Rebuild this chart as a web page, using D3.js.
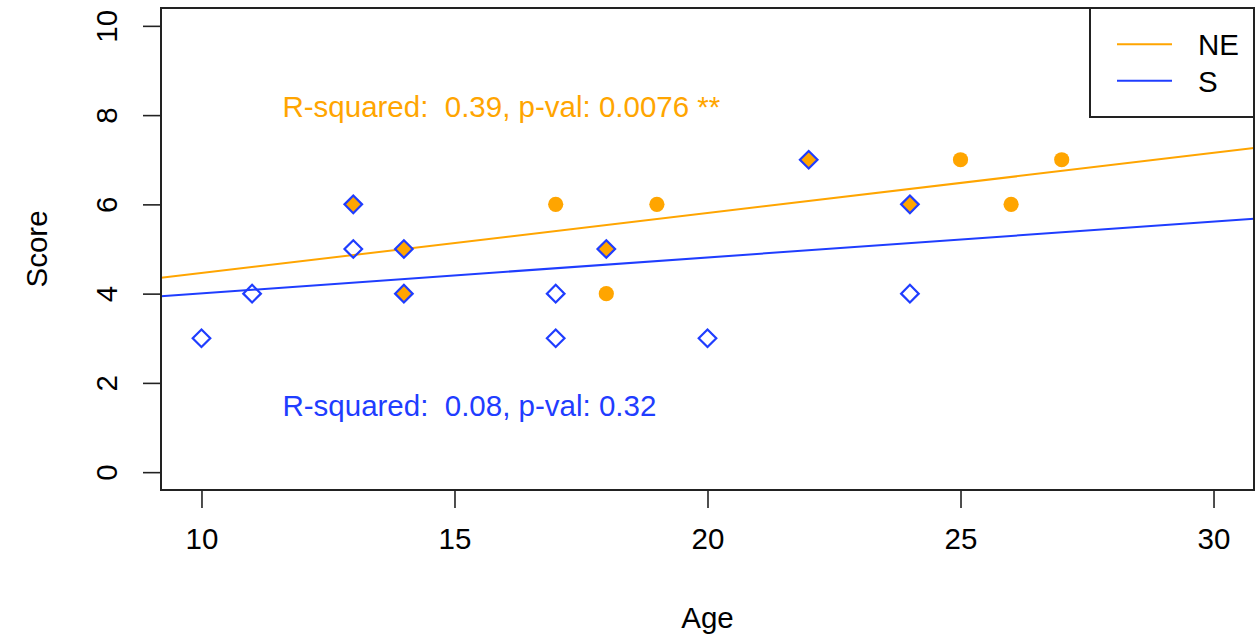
<!DOCTYPE html>
<html>
<head>
<meta charset="utf-8">
<script src="https://cdn.jsdelivr.net/npm/d3@7"></script>
<style>
  html, body { margin: 0; padding: 0; background: #fff; }
  svg { display: block; font-family: "Liberation Sans", Arial, Helvetica, sans-serif; }
  text.ann { white-space: pre; }
</style>
</head>
<body>
<svg id="chart" width="1258" height="635"></svg>
<script>
// ---- data ----
const neAge   = [17, 19, 18, 25, 26, 27, 13, 14, 14, 18, 22, 24];
const neScore = [ 6,  6,  4,  7,  6,  7,  6,  5,  4,  5,  7,  6];
const sAge    = [10, 11, 13, 17, 17, 20, 24, 13, 14, 14, 18, 22, 24];
const sScore  = [ 3,  4,  5,  4,  3,  3,  4,  6,  5,  4,  5,  7,  6];
// fitted lines (intercept, slope)
const neFit = [3.115, 0.1346];
const sFit  = [3.202, 0.0804];
const xTicks = [10, 15, 20, 25, 30];
const yTicks = [0, 2, 4, 6, 8, 10];
const xLim = [10, 30];
const yLim = [0, 10];
const seriesNames = ["NE", "S"];
const annotations = [
  { text: "R-squared:  0.39, p-val: 0.0076 **", x: 11.6, y: 8.2, series: "NE" },
  { text: "R-squared:  0.08, p-val: 0.32", x: 11.6, y: 1.5, series: "S" }
];

(function () {
// ---- layout ----
const colors = { NE: "#FFA500", S: "#1f3dff" };
const pl = 161, pr = 1254, pt = 8, pb = 490;
const fs = 29.5;
const ext = (l) => { const d = (l[1] - l[0]) * 0.04; return [l[0] - d, l[1] + d]; };
const x = d3.scaleLinear().domain(ext(xLim)).range([pl, pr]);
const y = d3.scaleLinear().domain(ext(yLim)).range([pb, pt]);

const svg = d3.select("#chart");
svg.append("defs").append("clipPath").attr("id", "plotclip")
  .append("rect").attr("x", pl).attr("y", pt).attr("width", pr - pl).attr("height", pb - pt);

// axes
const xAxis = svg.append("g").attr("transform", `translate(0,${pb})`)
  .call(d3.axisBottom(x).tickValues(xTicks).tickSize(18).tickPadding(20).tickFormat(d3.format("d")));
xAxis.select(".domain").remove();
xAxis.selectAll("line").attr("stroke", "#222").attr("stroke-width", 1.6);
xAxis.selectAll("text").attr("font-size", fs).attr("fill", "#000")
  .attr("font-family", "'Liberation Sans', Arial, sans-serif");

const yAxis = svg.append("g").attr("transform", `translate(${pl},0)`)
  .call(d3.axisLeft(y).tickValues(yTicks).tickSize(18).tickFormat(d3.format("d")));
yAxis.select(".domain").remove();
yAxis.selectAll("line").attr("stroke", "#222").attr("stroke-width", 1.6);
yAxis.selectAll("text")
  .attr("font-size", fs).attr("fill", "#000")
  .attr("font-family", "'Liberation Sans', Arial, sans-serif")
  .attr("x", null).attr("dy", null)
  .attr("text-anchor", "middle")
  .attr("transform", "translate(-44,0) rotate(-90)");

// axis titles
svg.append("text").attr("x", (pl + pr) / 2).attr("y", 628)
  .attr("text-anchor", "middle").attr("font-size", fs).text("Age");
svg.append("text").attr("transform", `translate(46.5,${(pt + pb) / 2}) rotate(-90)`)
  .attr("text-anchor", "middle").attr("font-size", fs).text("Score");

// fitted lines
const plot = svg.append("g").attr("clip-path", "url(#plotclip)");
const fits = [{ k: "NE", f: neFit }, { k: "S", f: sFit }];
const xd = x.domain();
plot.selectAll("line.fit").data(fits).join("line")
  .attr("x1", x(xd[0])).attr("x2", x(xd[1]))
  .attr("y1", d => y(d.f[0] + d.f[1] * xd[0]))
  .attr("y2", d => y(d.f[0] + d.f[1] * xd[1]))
  .attr("stroke", d => colors[d.k]).attr("stroke-width", 2);

// points
const sKeys = new Set(sAge.map((a, i) => a + "_" + sScore[i]));
const nePts = neAge.map((a, i) => ({ a, s: neScore[i], shared: sKeys.has(a + "_" + neScore[i]) }));
const sPts = sAge.map((a, i) => ({ a, s: sScore[i] }));
const h = 8.8;
const diamond = (cx, cy, r) => `M${cx},${cy - r}L${cx + r},${cy}L${cx},${cy + r}L${cx - r},${cy}Z`;

plot.selectAll("circle.ne").data(nePts.filter(d => !d.shared)).join("circle")
  .attr("cx", d => x(d.a)).attr("cy", d => y(d.s)).attr("r", 7.6)
  .attr("fill", colors.NE);
plot.selectAll("path.ne").data(nePts.filter(d => d.shared)).join("path")
  .attr("d", d => diamond(x(d.a), y(d.s), h)).attr("fill", colors.NE);
plot.selectAll("path.s").data(sPts).join("path")
  .attr("d", d => diamond(x(d.a), y(d.s), h))
  .attr("fill", "none").attr("stroke", colors.S).attr("stroke-width", 2.2);

// annotations
svg.selectAll("text.ann").data(annotations).join("text")
  .attr("class", "ann")
  .attr("x", d => x(d.x)).attr("y", d => y(d.y) + 11)
  .attr("font-size", fs).attr("fill", d => colors[d.series])
  .text(d => d.text);

// frame
svg.append("rect").attr("x", pl).attr("y", pt).attr("width", pr - pl).attr("height", pb - pt)
  .attr("fill", "none").attr("stroke", "#222").attr("stroke-width", 2);

// legend
const lg = svg.append("g");
lg.append("rect").attr("x", 1090).attr("y", pt).attr("width", pr - 1090).attr("height", 117 - pt)
  .attr("fill", "#fff").attr("stroke", "#222").attr("stroke-width", 2);
seriesNames.forEach((k, i) => {
  const ly = 44.3 + i * 36.4;
  lg.append("line").attr("x1", 1117).attr("x2", 1172).attr("y1", ly).attr("y2", ly)
    .attr("stroke", colors[k]).attr("stroke-width", 2);
  lg.append("text").attr("x", 1198).attr("y", ly + 11).attr("font-size", fs).text(k);
});
})();
</script>
</body>
</html>
